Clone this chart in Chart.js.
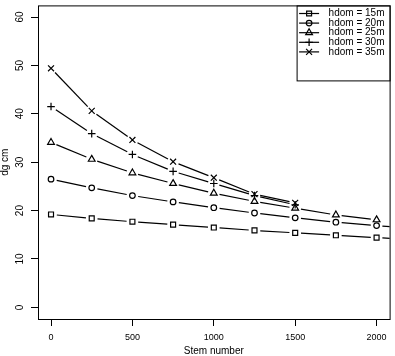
<!DOCTYPE html>
<html lang="en">
<head>
<meta charset="UTF-8">
<title>dg by stem number</title>
<style>
  html, body { margin: 0; padding: 0; background: #fff; }
  canvas { display: block; }
</style>
<script src="https://cdn.jsdelivr.net/npm/chart.js@4"></script>
</head>
<body>
<canvas id="chart" width="395" height="356"></canvas>
<script>
  // stem numbers on the x axis (last one lies past the right edge)
  const stems = [0, 250, 500, 750, 1000, 1250, 1500, 1750, 2000, 2250];

  // dg (cm) per dominant height
  const hdom15 = [19.2, 18.4, 17.7, 17.1, 16.5, 15.9, 15.4, 14.9, 14.4, 14.0];
  const hdom20 = [26.5, 24.7, 23.1, 21.8, 20.6, 19.5, 18.5, 17.6, 16.9, 16.2];
  const hdom25 = [34.1, 30.6, 27.8, 25.6, 23.6, 21.9, 20.5, 19.1, 18.1, null];
  const hdom30 = [41.5, 35.9, 31.6, 28.1, 25.6, 23.1, 21.2, null, null, null];
  const hdom35 = [49.4, 40.6, 34.6, 30.1, 26.8, 23.4, 21.6, null, null, null];

  const seriesLabels = ['hdom = 15m', 'hdom = 20m', 'hdom = 25m', 'hdom = 30m', 'hdom = 35m'];
  const xTicks = [0, 500, 1000, 1500, 2000];
  const yTicks = [0, 10, 20, 30, 40, 50, 60];

  const series = [hdom15, hdom20, hdom25, hdom30, hdom35];
  const markers = ['rect', 'circle', 'triangle', 'cross', 'crossRot'];
  const markerSize = [3.5, 2.8, 3.9, 3.8, 4.2];
  const GAP = 5.8; // R type="b" leaves a gap round each point

  Chart.defaults.font.family = "'Liberation Sans', Arial, sans-serif";
  Chart.defaults.color = '#000';

  function drawMarker(ctx, style, x, y, r) {
    ctx.beginPath();
    if (style === 'rect') {
      const s = Math.SQRT1_2 * r;
      ctx.rect(x - s, y - s, 2 * s, 2 * s);
    } else if (style === 'circle') {
      ctx.arc(x, y, r, 0, Math.PI * 2);
    } else if (style === 'triangle') {
      for (let k = 0; k < 3; k++) {
        const a = k * 2 * Math.PI / 3;
        const px = x + Math.sin(a) * r, py = y - Math.cos(a) * r;
        k === 0 ? ctx.moveTo(px, py) : ctx.lineTo(px, py);
      }
      ctx.closePath();
    } else if (style === 'cross') {
      ctx.moveTo(x - r, y); ctx.lineTo(x + r, y);
      ctx.moveTo(x, y - r); ctx.lineTo(x, y + r);
    } else {
      const d = Math.SQRT1_2 * r;
      ctx.moveTo(x - d, y - d); ctx.lineTo(x + d, y + d);
      ctx.moveTo(x - d, y + d); ctx.lineTo(x + d, y - d);
    }
    ctx.stroke();
  }

  // plot frame and R-style legend
  const framePlugin = {
    id: 'frame',
    afterDraw(chart) {
      const { ctx, chartArea: a } = chart;
      ctx.save();
      ctx.strokeStyle = '#000';
      ctx.lineWidth = 1;
      ctx.strokeRect(a.left + 0.5, a.top + 0.5, a.right - a.left, a.bottom - a.top);

      const lx = a.right - 92.5;
      ctx.strokeRect(lx, a.top + 0.5, a.right + 0.5 - lx, 75);
      ctx.font = "10px 'Liberation Sans', Arial, sans-serif";
      ctx.textBaseline = 'middle';
      ctx.fillStyle = '#000';
      chart.data.datasets.forEach((ds, i) => {
        const y = 13.5 + i * 9.6;
        ctx.lineWidth = 1.2;
        ctx.beginPath();
        ctx.moveTo(lx + 2, y); ctx.lineTo(lx + 22, y);
        ctx.stroke();
        drawMarker(ctx, markers[i], lx + 12, y, markerSize[i]);
        ctx.fillText(ds.label, lx + 31.5, y);
      });
      ctx.restore();
    }
  };

  const datasets = series.map((vals, i) => ({
    label: seriesLabels[i],
    data: stems.map((s, j) => ({ x: s, y: vals[j] })),
    borderColor: '#000',
    borderWidth: 1.2,
    pointStyle: markers[i],
    pointRadius: markerSize[i],
    pointBorderWidth: 1.2,
    pointBorderColor: '#000',
    pointBackgroundColor: 'rgba(0,0,0,0)',
    spanGaps: false,
    segment: {
      borderDash: c => {
        const L = Math.hypot(c.p1.x - c.p0.x, c.p1.y - c.p0.y);
        return [0, GAP, Math.max(L - 2 * GAP, 0) + c.p0DataIndex * 1e-6, GAP + 50];
      }
    }
  }));

  new Chart(document.getElementById('chart'), {
    type: 'line',
    data: { datasets },
    options: {
      responsive: false,
      animation: false,
      events: [],
      layout: { padding: { top: 0, right: 1, bottom: 0, left: 0 } },
      plugins: { legend: { display: false }, tooltip: { enabled: false } },
      scales: {
        x: {
          type: 'linear',
          min: -80,
          max: 2080,
          afterBuildTicks: s => { s.ticks = xTicks.map(v => ({ value: v })); },
          afterFit: s => { s.height = 37; s.paddingLeft = 0; s.paddingRight = 0; },
          grid: { display: true, drawOnChartArea: false, drawTicks: true, tickLength: 7, color: '#000', lineWidth: 1 },
          border: { display: false },
          ticks: { autoSkip: false, maxRotation: 0, padding: 7.5, font: { size: 9, lineHeight: 1 }, callback: v => String(v) },
          title: { display: true, text: 'Stem number', padding: 0, font: { size: 10, lineHeight: 1 } }
        },
        y: {
          type: 'linear',
          min: -2.4,
          max: 62.4,
          afterBuildTicks: s => { s.ticks = yTicks.map(v => ({ value: v })); },
          afterFit: s => { s.width = 38; s.paddingTop = 0; s.paddingBottom = 0; },
          grid: { display: true, drawOnChartArea: false, drawTicks: true, tickLength: 7, color: '#000', lineWidth: 1 },
          border: { display: false },
          ticks: { autoSkip: false, minRotation: 90, maxRotation: 90, crossAlign: 'center', padding: 5.4, font: { size: 10, lineHeight: 1 }, callback: v => String(v) },
          title: { display: true, text: 'dg cm', padding: 0, font: { size: 10, lineHeight: 1 } }
        }
      }
    },
    plugins: [framePlugin]
  });
</script>
</body>
</html>
